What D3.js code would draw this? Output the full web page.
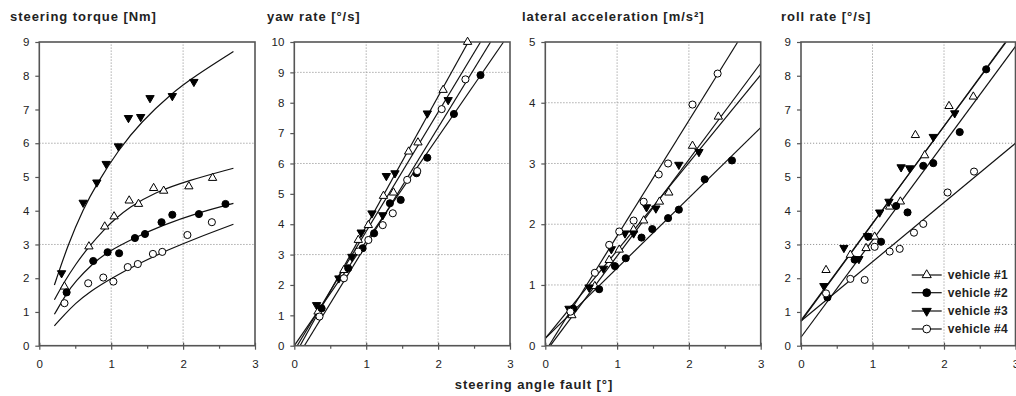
<!DOCTYPE html>
<html><head><meta charset="utf-8">
<script src="https://cdn.jsdelivr.net/npm/d3@7"></script>
<style>
body{margin:0;background:#fff}
svg{display:block;font-family:"Liberation Sans",Arial,sans-serif}
</style>
</head><body>
<svg id="c" width="1016" height="396"></svg>
<script>
// ---------- data ----------
const seriesNames = ["vehicle #1","vehicle #2","vehicle #3","vehicle #4"];
const xTickLabels = [0,1,2,3];

// steering torque [Nm]
const tqV1x=[0.35,0.69,0.91,1.04,1.25,1.38,1.59,1.73,2.08,2.41];
const tqV1y=[1.75,2.94,3.53,3.83,4.30,4.20,4.67,4.59,4.72,4.97];
const tqV2x=[0.38,0.75,0.95,1.11,1.33,1.47,1.70,1.85,2.22,2.59];
const tqV2y=[1.58,2.51,2.77,2.74,3.19,3.31,3.66,3.88,3.90,4.20];
const tqV3x=[0.31,0.61,0.80,0.93,1.10,1.24,1.41,1.54,1.85,2.15];
const tqV3y=[2.15,4.24,4.84,5.39,5.91,6.75,6.78,7.34,7.40,7.82];
const tqV4x=[0.35,0.68,0.89,1.03,1.23,1.37,1.58,1.71,2.06,2.40];
const tqV4y=[1.26,1.85,2.02,1.90,2.33,2.42,2.72,2.78,3.28,3.66];
const tqFit1=[[0.21,1.36],[0.35,1.9],[0.5,2.4],[0.69,2.94],[0.91,3.46],[1.04,3.73],[1.25,4.1],[1.59,4.53],[2.08,4.9],[2.7,5.26]];
const tqFit2=[[0.21,0.93],[0.38,1.55],[0.5,1.9],[0.75,2.45],[0.95,2.78],[1.33,3.2],[1.7,3.56],[2.22,3.95],[2.7,4.22]];
const tqFit3=[[0.21,1.8],[0.4,3.0],[0.61,4.05],[0.8,4.8],[1.1,5.8],[1.41,6.62],[1.85,7.5],[2.15,7.97],[2.7,8.72]];
const tqFit4=[[0.21,0.59],[0.35,0.92],[0.5,1.25],[0.7,1.6],[1.0,2.0],[1.4,2.45],[1.8,2.85],[2.2,3.2],[2.7,3.6]];

// yaw rate [°/s]
const ywV1x=[0.33,0.69,0.89,1.03,1.24,1.38,1.59,1.72,2.07,2.41];
const ywV1y=[1.12,2.49,3.48,3.97,4.93,5.04,6.39,6.69,8.42,10.0];
const ywV2x=[0.38,0.75,0.95,1.11,1.33,1.48,1.70,1.85,2.22,2.59];
const ywV2y=[1.23,2.55,3.21,3.70,4.69,4.80,5.68,6.19,7.63,8.91];
const ywV3x=[0.31,0.62,0.80,0.93,1.08,1.23,1.28,1.40,1.85,2.14];
const ywV3y=[1.34,2.22,2.93,3.73,4.36,4.30,5.59,5.68,7.65,8.09];
const ywV4x=[0.35,0.69,0.89,1.03,1.23,1.37,1.57,1.71,2.05,2.38];
const ywV4y=[0.96,2.22,3.10,3.48,3.97,4.36,5.46,5.75,7.79,8.77];
const ywFit1=[[0.08,0],[2.42,10]];
const ywFit2=[[0.0,0],[2.91,10]];
const ywFit3=[[0.04,0],[2.59,10]];
const ywFit4=[[0.14,0],[2.73,10]];

// lateral acceleration [m/s²]
const laV1x=[0.37,0.69,0.89,1.03,1.23,1.37,1.59,1.72,2.05,2.41];
const laV1y=[0.50,0.98,1.41,1.58,1.91,2.06,2.37,2.52,3.29,3.77];
const laV2x=[0.39,0.75,0.97,1.12,1.34,1.49,1.71,1.86,2.22,2.60];
const laV2y=[0.61,0.93,1.31,1.44,1.78,1.92,2.10,2.24,2.74,3.05];
const laV3x=[0.33,0.61,0.81,0.92,1.11,1.23,1.41,1.54,1.86,2.14];
const laV3y=[0.61,0.96,1.27,1.59,1.85,1.85,2.28,2.26,2.98,3.19];
const laV4x=[0.35,0.69,0.89,1.03,1.23,1.37,1.58,1.71,2.05,2.40];
const laV4y=[0.56,1.20,1.66,1.88,2.06,2.37,2.82,3.00,3.97,4.48];
const laFit1=[[0.07,0],[3,4.65]];
const laFit2=[[0,0.12],[3,3.59]];
const laFit3=[[0,0.12],[3,4.46]];
const laFit4=[[0.05,0],[2.68,5]];

// roll rate [°/s]
const rrV1x=[0.35,0.69,0.91,1.03,1.24,1.39,1.60,1.73,2.07,2.41];
const rrV1y=[2.24,2.69,2.89,3.23,4.12,4.27,6.24,5.64,7.10,7.38];
const rrV2x=[0.37,0.75,0.94,1.12,1.33,1.49,1.71,1.85,2.22,2.59];
const rrV2y=[1.43,2.55,3.23,3.08,4.14,3.95,5.33,5.41,6.33,8.19];
const rrV3x=[0.32,0.60,0.81,0.93,1.10,1.23,1.40,1.52,1.85,2.15];
const rrV3y=[1.77,2.90,2.57,3.25,3.95,4.27,5.29,5.26,6.19,6.89];
const rrV4x=[0.35,0.69,0.89,1.03,1.24,1.38,1.58,1.71,2.05,2.42];
const rrV4y=[1.55,1.98,1.95,2.93,2.79,2.87,3.35,3.61,4.54,5.16];
const rrFit1=[[0,0.75],[2.87,9]];
const rrFit2=[[0,0.25],[3,8.87]];
const rrFit3=[[0,0.72],[2.86,9]];
const rrFit4=[[0,0.73],[3,6.0]];

const titles=["steering torque [Nm]","yaw rate [°/s]","lateral acceleration [m/s²]","roll rate [°/s]"];
const yMaxes=[9,10,5,9];
const yGrids=[[3,6],[3,6,9],[1,2,3,4],[3,6]];
const xLabel="steering angle fault [°]";

// ---------- layout ----------
const plotTop=42, plotBot=345.7;
const panelL=[39.3,294.3,545.3,801];
const panelR=[255,510,760.7,1015.5];
const titleX=[10,267,522,781];

const panelData=[
  {pts:[[tqV1x,tqV1y],[tqV2x,tqV2y],[tqV3x,tqV3y],[tqV4x,tqV4y]],fits:[tqFit1,tqFit2,tqFit3,tqFit4],curve:true},
  {pts:[[ywV1x,ywV1y],[ywV2x,ywV2y],[ywV3x,ywV3y],[ywV4x,ywV4y]],fits:[ywFit1,ywFit2,ywFit3,ywFit4]},
  {pts:[[laV1x,laV1y],[laV2x,laV2y],[laV3x,laV3y],[laV4x,laV4y]],fits:[laFit1,laFit2,laFit3,laFit4]},
  {pts:[[rrV1x,rrV1y],[rrV2x,rrV2y],[rrV3x,rrV3y],[rrV4x,rrV4y]],fits:[rrFit1,rrFit2,rrFit3,rrFit4]}
];

const sym=[
  {type:d3.symbolTriangle,size:30,fill:"#fff",rot:0},
  {type:d3.symbolCircle,size:40,fill:"#000",rot:0},
  {type:d3.symbolTriangle,size:30,fill:"#000",rot:180},
  {type:d3.symbolCircle,size:40,fill:"#fff",rot:0}
];

const svg=d3.select("#c");
const axisCol="#555", textCol="#222";

panelData.forEach((pd,i)=>{
  const x=d3.scaleLinear().domain([0,3]).range([panelL[i],panelR[i]]);
  const y=d3.scaleLinear().domain([0,yMaxes[i]]).range([plotBot,plotTop]);
  const g=svg.append("g");

  // grid
  g.selectAll("line.gx").data([1,2]).join("line").attr("class","gx")
    .attr("x1",d=>x(d)).attr("x2",d=>x(d)).attr("y1",y(0)).attr("y2",y(yMaxes[i]))
    .attr("stroke","#999").attr("stroke-width",1).attr("stroke-dasharray","1.2,1.8");
  g.selectAll("line.gy").data(yGrids[i]).join("line").attr("class","gy")
    .attr("y1",d=>y(d)).attr("y2",d=>y(d)).attr("x1",x(0)).attr("x2",x(3))
    .attr("stroke","#999").attr("stroke-width",1).attr("stroke-dasharray","1.2,1.8");

  // fit lines
  const line=d3.line().x(d=>x(d[0])).y(d=>y(d[1]));
  if(pd.curve) line.curve(d3.curveBasis);
  pd.fits.forEach(f=>{
    g.append("path").attr("d",line(f)).attr("fill","none").attr("stroke","#111").attr("stroke-width",1.2);
  });

  // frame
  g.append("rect").attr("x",x(0)).attr("y",y(yMaxes[i])).attr("width",x(3)-x(0)).attr("height",y(0)-y(yMaxes[i]))
    .attr("fill","none").attr("stroke",axisCol).attr("stroke-width",1.6);

  // x axis minor ticks
  const xm=g.append("g").attr("transform",`translate(0,${y(0)})`)
    .call(d3.axisBottom(x).tickValues([0.5,1.5,2.5]).tickSize(3).tickFormat(""));
  xm.select(".domain").remove();
  xm.selectAll("line").attr("stroke",axisCol).attr("stroke-width",1.2);
  // x axis major
  const xa=g.append("g").attr("transform",`translate(0,${y(0)})`)
    .call(d3.axisBottom(x).tickValues(xTickLabels).tickSize(4).tickPadding(10).tickFormat(d3.format("d")));
  xa.select(".domain").remove();
  xa.selectAll("line").attr("y1",-3).attr("y2",4).attr("stroke",axisCol).attr("stroke-width",1.2);
  xa.selectAll("text").attr("font-size","11.5px").attr("fill",textCol).attr("font-family","Liberation Sans, Arial, sans-serif");

  // y axis
  const ya=g.append("g").attr("transform",`translate(${x(0)},0)`)
    .call(d3.axisLeft(y).tickValues(d3.range(0,yMaxes[i]+1)).tickSize(4).tickPadding(6).tickFormat(d3.format("d")));
  ya.select(".domain").remove();
  ya.selectAll("line").attr("stroke",axisCol).attr("stroke-width",1.2);
  ya.selectAll("text").attr("font-size","11.5px").attr("fill",textCol).attr("font-family","Liberation Sans, Arial, sans-serif");

  // points
  pd.pts.forEach((s,k)=>{
    const st=sym[k];
    const pts=s[0].map((xv,j)=>[xv,s[1][j]]);
    g.selectAll(null).data(pts).join("path")
      .attr("d",d3.symbol().type(st.type).size(st.size)())
      .attr("transform",d=>`translate(${x(d[0])},${y(d[1])}) rotate(${st.rot})`)
      .attr("fill",st.fill).attr("stroke","#000").attr("stroke-width",1);
  });

  // title
  svg.append("text").attr("x",titleX[i]).attr("y",21).text(titles[i])
    .attr("font-size","13px").attr("font-weight","bold").attr("letter-spacing","0.95px").attr("fill",textCol);
});

// x label
svg.append("text").attr("x",534).attr("y",389).attr("text-anchor","middle").text(xLabel)
  .attr("font-size","13px").attr("font-weight","bold").attr("letter-spacing","0.9px").attr("fill",textCol);

// legend
const legY=[275,292.7,311,329];
const lg=svg.append("g");
seriesNames.forEach((n,k)=>{
  const st=sym[k];
  lg.append("line").attr("x1",911.7).attr("x2",941.7).attr("y1",legY[k]).attr("y2",legY[k]).attr("stroke","#111").attr("stroke-width",1.2);
  lg.append("path").attr("d",d3.symbol().type(st.type).size(st.size*1.2)())
    .attr("transform",`translate(926.7,${legY[k]}) rotate(${st.rot})`)
    .attr("fill",st.fill).attr("stroke","#000").attr("stroke-width",1);
  lg.append("text").attr("x",947.7).attr("y",legY[k]).attr("dy","0.35em").text(n)
    .attr("font-size","12px").attr("font-weight","bold").attr("letter-spacing","0.3px").attr("fill",textCol);
});
</script>
</body></html>
